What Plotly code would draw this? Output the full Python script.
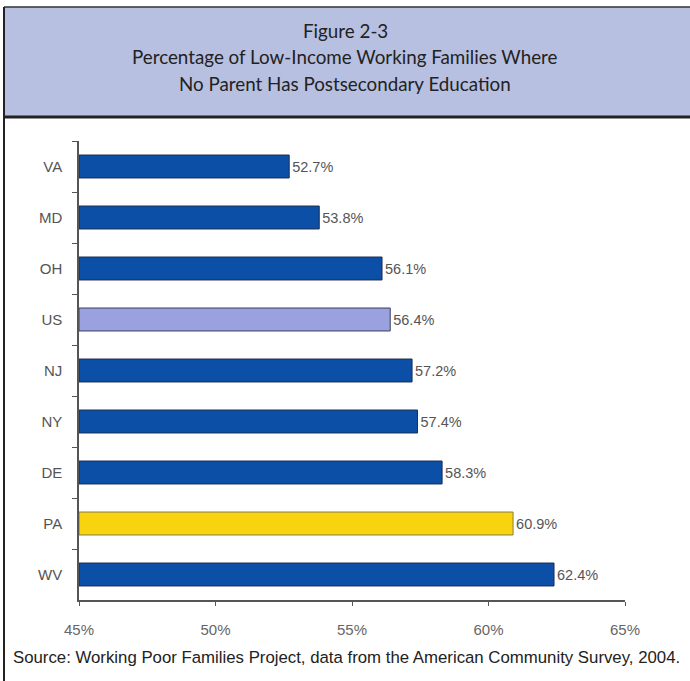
import plotly.graph_objects as go

states = ["VA", "MD", "OH", "US", "NJ", "NY", "DE", "PA", "WV"]
values = [52.7, 53.8, 56.1, 56.4, 57.2, 57.4, 58.3, 60.9, 62.4]
colors = ["#0c4fa6", "#0c4fa6", "#0c4fa6", "#9aa1de", "#0c4fa6", "#0c4fa6", "#0c4fa6", "#f8d310", "#0c4fa6"]
outlines = ["#1d2d55", "#1d2d55", "#1d2d55", "#3b3f5c", "#1d2d55", "#1d2d55", "#1d2d55", "#8a7c45", "#1d2d55"]
axis_start = 45
tick_vals = [45, 50, 55, 60, 65]
tick_text = ["45%", "50%", "55%", "60%", "65%"]
labels = [f"{v:.1f}%" for v in values]

fig = go.Figure(go.Bar(
    x=[v - axis_start for v in values], y=states, orientation="h", base=axis_start,
    marker=dict(color=colors, line=dict(color=outlines, width=1)),
    width=0.45,
    text=labels, textposition="outside", cliponaxis=False,
    textfont=dict(family="Liberation Sans, Arial, sans-serif", size=14.5, color="#555555"),
))

ML, MR, MT, MB = 79, 65, 141, 81
FW, FH = 690, 681
fig.update_layout(
    width=FW, height=FH,
    margin=dict(l=ML, r=MR, t=MT, b=MB),
    paper_bgcolor="white", plot_bgcolor="white",
    showlegend=False,
    xaxis=dict(range=[45, 65], tickvals=tick_vals, ticktext=tick_text,
               showgrid=False, zeroline=False, showline=True, linecolor="#555555", linewidth=1.5,
               ticks="outside", ticklen=4, tickcolor="#555555",
               ticklabelstandoff=11,
               tickfont=dict(family="Liberation Sans, Arial, sans-serif", size=15, color="#666666")),
    yaxis=dict(categoryorder="array", categoryarray=states, autorange="reversed",
               showgrid=False, showline=True, linecolor="#555555", linewidth=1.5,
               ticks="outside", ticklen=5, tickcolor="#555555", tickson="boundaries",
               ticklabelstandoff=12,
               tickfont=dict(family="Liberation Sans, Arial, sans-serif", size=15, color="#555555")),
    font=dict(family="Liberation Sans, Arial, sans-serif"),
)

W = float(FW - ML - MR)
H = float(FH - MT - MB)
def px(x):
    return (x - ML) / W
def py(y):
    return (FH - MB - y) / H

# header box
fig.add_shape(type="rect", xref="paper", yref="paper",
              x0=px(4), x1=px(700), y0=py(117), y1=py(7),
              fillcolor="#b7c0e0", line=dict(width=0), layer="below")
fig.add_shape(type="line", xref="paper", yref="paper", x0=px(4), x1=px(700), y0=py(7), y1=py(7),
              line=dict(color="#333333", width=1.5))
fig.add_shape(type="line", xref="paper", yref="paper", x0=px(4), x1=px(700), y0=py(117), y1=py(117),
              line=dict(color="#222222", width=3))
fig.add_shape(type="line", xref="paper", yref="paper", x0=px(4), x1=px(4), y0=py(700), y1=py(7),
              line=dict(color="#222222", width=2))

header = ["Figure 2-3", "Percentage of Low-Income Working Families Where", "No Parent Has Postsecondary Education"]
for i, line in enumerate(header):
    fig.add_annotation(xref="paper", yref="paper", x=px(345), y=py(31 + 26 * i),
                       text=line, showarrow=False, xanchor="center", yanchor="middle",
                       font=dict(family="Lato, Open Sans, sans-serif", size=18.8, color="#222222"))

fig.add_annotation(xref="paper", yref="paper", x=px(11), y=py(657),
                   text="Source: Working Poor Families Project, data from the American Community Survey, 2004.",
                   showarrow=False, xanchor="left", yanchor="middle",
                   font=dict(family="Liberation Sans, Arial, sans-serif", size=16.8, color="#222222"))

fig.write_html("out.html", config={"displayModeBar": False},
               post_script="document.body.style.margin='0';document.body.style.overflow='hidden';")
